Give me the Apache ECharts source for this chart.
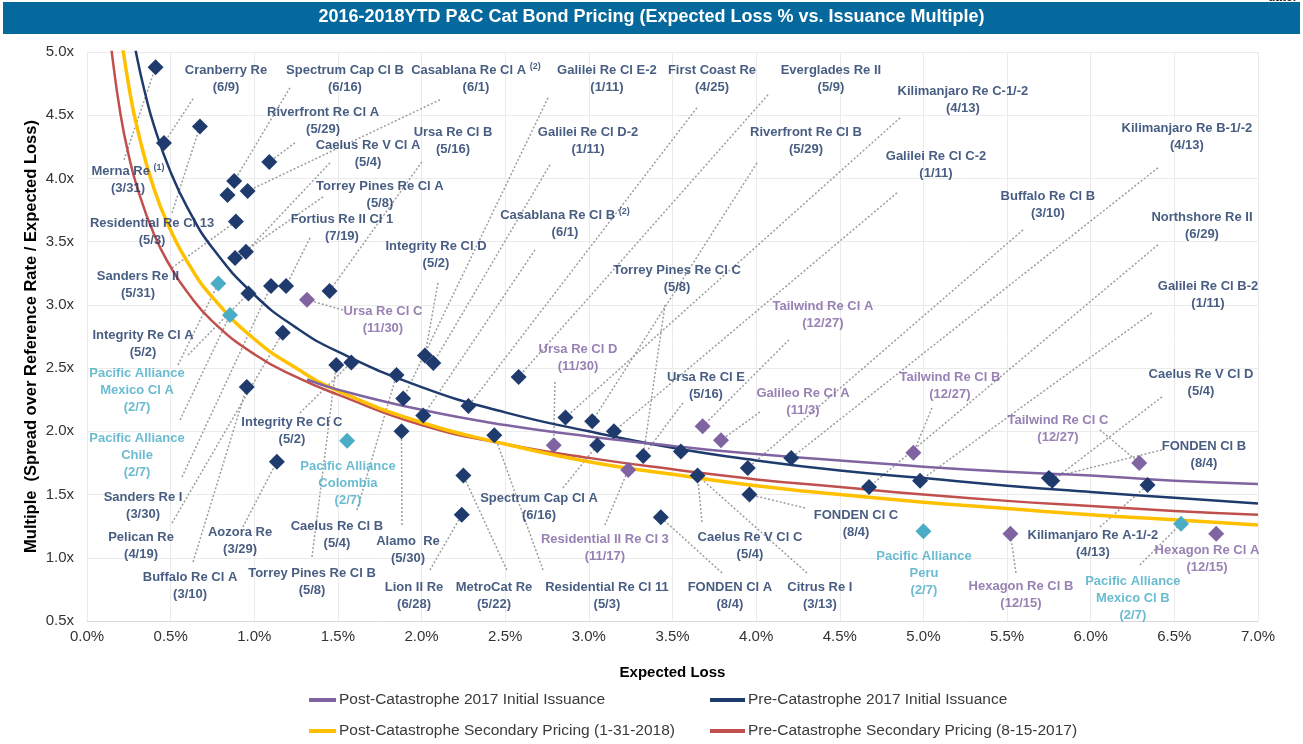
<!DOCTYPE html>
<html>
<head>
<meta charset="utf-8">
<title>2016-2018YTD P&C Cat Bond Pricing</title>
<script src="https://cdn.jsdelivr.net/npm/echarts@6/dist/echarts.min.js"></script>
<style>
html, body { margin: 0; padding: 0; background: #fff; }
#chart { width: 1303px; height: 744px; }
</style>
</head>
<body>
<div id="chart"></div>
<script>
var FONT = '"Liberation Sans", Arial, sans-serif'

// fitted pricing curves: [expected loss %, multiple]
var postIssuance2017 = [[1.315, 2.41], [1.5, 2.33], [2.0, 2.17], [2.5, 2.05], [3.0, 1.96], [3.5, 1.885], [4.0, 1.82],
  [4.5, 1.77], [5.0, 1.72], [5.5, 1.68], [6.0, 1.65], [6.5, 1.61], [7.0, 1.584]]
var preIssuance2017 = [[0.25, 5.32], [0.3, 4.95], [0.35, 4.66], [0.4, 4.42], [0.5, 4.05], [0.6, 3.77], [0.75, 3.45],
  [1.0, 3.08], [1.25, 2.82], [1.5, 2.63], [2.0, 2.35], [2.5, 2.15], [3.0, 2.0], [3.5, 1.87], [4.0, 1.77],
  [4.5, 1.69], [5.0, 1.63], [5.5, 1.57], [6.0, 1.52], [6.5, 1.475], [7.0, 1.43]]
var postSecondary = [[0.2, 5.16], [0.25, 4.73], [0.3, 4.40], [0.4, 3.92], [0.5, 3.59], [0.6, 3.34], [0.75, 3.06],
  [1.0, 2.73], [1.25, 2.50], [1.5, 2.32], [2.0, 2.07], [2.5, 1.90], [3.0, 1.76], [3.5, 1.66], [4.0, 1.57],
  [4.5, 1.50], [5.0, 1.44], [5.5, 1.39], [6.0, 1.34], [6.5, 1.30], [7.0, 1.26]]
var preSecondary = [[0.12, 5.37], [0.15, 4.98], [0.2, 4.51], [0.25, 4.18], [0.3, 3.93], [0.4, 3.56], [0.5, 3.30],
  [0.6, 3.10], [0.75, 2.87], [1.0, 2.61], [1.25, 2.43], [1.5, 2.29], [2.0, 2.05], [2.5, 1.90], [3.0, 1.79],
  [3.5, 1.70], [4.0, 1.62], [4.5, 1.56], [5.0, 1.50], [5.5, 1.45], [6.0, 1.41], [6.5, 1.37], [7.0, 1.34]]

// individual bonds: [expected loss %, multiple]
var navyBonds = [
  [0.41, 4.88], [0.46, 4.28], [0.675, 4.41], [1.09, 4.13], [0.88, 3.98],
  [0.84, 3.87], [0.96, 3.90], [0.89, 3.66], [0.95, 3.42], [0.885, 3.37],
  [0.965, 3.09], [1.10, 3.15], [1.19, 3.15], [1.45, 3.11], [1.17, 2.78],
  [1.49, 2.525], [1.58, 2.545], [0.955, 2.35], [1.85, 2.445], [1.89, 2.26],
  [2.02, 2.60], [2.07, 2.54], [2.01, 2.125], [1.88, 2.0], [1.135, 1.76],
  [2.58, 2.43], [2.28, 2.20], [2.86, 2.11], [3.02, 2.08], [3.15, 2.00],
  [3.05, 1.89], [2.435, 1.97], [3.325, 1.805], [3.55, 1.84], [3.65, 1.65],
  [3.95, 1.71], [4.21, 1.79], [3.96, 1.50], [2.25, 1.65], [2.24, 1.34],
  [3.43, 1.32], [4.675, 1.56], [4.98, 1.61], [5.77, 1.61], [5.75, 1.63],
  [6.34, 1.575]
]
var purpleBonds = [[1.315, 3.04], [2.79, 1.89], [3.235, 1.695], [3.68, 2.04], [3.79, 1.93],
  [4.94, 1.83], [6.29, 1.75], [5.52, 1.19], [6.75, 1.19]]
var tealBonds = [[0.785, 3.17], [0.855, 2.92], [1.555, 1.925], [5.0, 1.21], [6.54, 1.27]]

// bond names: [text, group, index of the bond it points to]
var bondLabels = [
  ['Cranberry Re\n(6/9)', 'navy', 1],
  ['Spectrum Cap Cl B\n(6/16)', 'navy', 4],
  ['Casablana Re Cl A {sup|(2)}\n(6/1)', 'navy', 6],
  ['Galilei Re Cl E-2\n(1/11)', 'navy', 19],
  ['First Coast Re\n(4/25)', 'navy', 26],
  ['Everglades Re II\n(5/9)', 'navy', 25],
  ['Kilimanjaro Re C-1/-2\n(4/13)', 'navy', 27],
  ['Riverfront Re Cl A\n(5/29)', 'navy', 3],
  ['Ursa Re Cl B\n(5/16)', 'navy', 13],
  ['Galilei Re Cl D-2\n(1/11)', 'navy', 21],
  ['Riverfront Re Cl B\n(5/29)', 'navy', 28],
  ['Kilimanjaro Re B-1/-2\n(4/13)', 'navy', 36],
  ['Caelus Re V Cl A\n(5/4)', 'navy', 8],
  ['Galilei Re Cl C-2\n(1/11)', 'navy', 29],
  ['Merna Re {sup|(1)}\n(3/31)', 'navy', 0],
  ['Torrey Pines Re Cl A\n(5/8)', 'navy', 9],
  ['Buffalo Re Cl B\n(3/10)', 'navy', 35],
  ['Casablana Re Cl B {sup|(2)}\n(6/1)', 'navy', 22],
  ['Residential Re Cl 13\n(5/3)', 'navy', 2],
  ['Fortius Re II Cl 1\n(7/19)', 'navy', 12],
  ['Northshore Re II\n(6/29)', 'navy', 41],
  ['Integrity Re Cl D\n(5/2)', 'navy', 20],
  ['Sanders Re II\n(5/31)', 'navy', 7],
  ['Torrey Pines Re Cl C\n(5/8)', 'navy', 32],
  ['Galilei Re Cl B-2\n(1/11)', 'navy', 42],
  ['Integrity Re Cl A\n(5/2)', 'navy', 10],
  ['Caelus Re V Cl D\n(5/4)', 'navy', 43],
  ['Integrity Re Cl C\n(5/2)', 'navy', 16],
  ['FONDEN Cl B\n(8/4)', 'navy', 44],
  ['Sanders Re I\n(3/30)', 'navy', 11],
  ['Spectrum Cap Cl A\n(6/16)', 'navy', 30],
  ['FONDEN Cl C\n(8/4)', 'navy', 37],
  ['Pelican Re\n(4/19)', 'navy', 14],
  ['Aozora Re\n(3/29)', 'navy', 24],
  ['Caelus Re Cl B\n(5/4)', 'navy', 18],
  ['Alamo  Re\n(5/30)', 'navy', 23],
  ['Caelus Re V Cl C\n(5/4)', 'navy', 34],
  ['Kilimanjaro Re A-1/-2\n(4/13)', 'navy', 45],
  ['Buffalo Re Cl A\n(3/10)', 'navy', 17],
  ['Torrey Pines Re Cl B\n(5/8)', 'navy', 15],
  ['Lion II Re\n(6/28)', 'navy', 39],
  ['MetroCat Re\n(5/22)', 'navy', 38],
  ['Residential Re Cl 11\n(5/3)', 'navy', 31],
  ['FONDEN Cl A\n(8/4)', 'navy', 40],
  ['Citrus Re I\n(3/13)', 'navy', 34],
  ['Ursa Re Cl E\n(5/16)', 'navy', 32],
  ['Ursa Re Cl C\n(11/30)', 'purple', 0],
  ['Tailwind Re Cl A\n(12/27)', 'purple', 3],
  ['Ursa Re Cl D\n(11/30)', 'purple', 1],
  ['Galileo Re Cl A\n(11/3)', 'purple', 4],
  ['Tailwind Re Cl B\n(12/27)', 'purple', 5],
  ['Tailwind Re Cl C\n(12/27)', 'purple', 6],
  ['Residential II Re Cl 3\n(11/17)', 'purple', 2],
  ['Hexagon Re Cl B\n(12/15)', 'purple', 7],
  ['Hexagon Re Cl A\n(12/15)', 'purple', 8],
  ['Pacific Alliance\nMexico Cl A\n(2/7)', 'teal', 0],
  ['Pacific Alliance\nChile\n(2/7)', 'teal', 1],
  ['Pacific Alliance\nColombia\n(2/7)', 'teal', 2],
  ['Pacific Alliance\nPeru\n(2/7)', 'teal', 3],
  ['Pacific Alliance\nMexico Cl B\n(2/7)', 'teal', 4]
]

// where each name sits and where its dotted leader starts (axis units)
var labelPlacement = [
  [0.831, 4.784, 0.634, 4.630], [1.542, 4.784, 1.213, 4.717], [2.325, 4.784, 2.110, 4.622],
  [3.108, 4.784, 2.756, 4.638], [3.736, 4.784, 3.646, 4.559], [4.447, 4.784, 4.071, 4.661],
  [5.236, 4.618, 4.860, 4.479], [1.411, 4.452, 1.243, 4.282], [2.188, 4.293, 2.002, 4.131],
  [2.995, 4.293, 2.767, 4.108], [4.298, 4.293, 4.005, 4.123], [6.575, 4.325, 6.402, 4.084],
  [1.680, 4.191, 1.452, 4.123], [5.075, 4.104, 4.842, 3.886], [0.245, 3.985, 0.221, 4.147],
  [1.751, 3.866, 1.411, 3.854], [5.744, 3.787, 5.595, 3.593], [2.857, 3.637, 2.678, 3.435],
  [0.389, 3.574, 0.508, 3.728], [1.524, 3.605, 1.333, 3.530], [6.665, 3.621, 6.402, 3.475],
  [2.086, 3.392, 2.098, 3.174], [0.305, 3.154, 0.508, 3.293], [3.527, 3.202, 3.455, 3.0],
  [6.701, 3.075, 6.366, 2.937], [0.335, 2.695, 0.604, 2.604], [6.659, 2.379, 6.426, 2.272],
  [1.225, 2.0, 1.273, 2.146], [6.677, 1.817, 6.426, 1.853], [0.335, 1.414, 0.568, 1.639],
  [2.702, 1.406, 2.845, 1.552], [4.597, 1.271, 4.292, 1.394], [0.323, 1.097, 0.508, 1.275],
  [0.915, 1.137, 0.932, 1.244], [1.494, 1.184, 1.614, 1.378], [1.919, 1.066, 1.883, 1.259],
  [3.963, 1.097, 3.676, 1.283], [6.013, 1.113, 6.055, 1.244], [0.616, 0.781, 0.634, 0.967],
  [1.345, 0.8125, 1.345, 1.006], [1.955, 0.702, 2.050, 0.903], [2.433, 0.702, 2.510, 0.903],
  [3.108, 0.702, 2.726, 0.903], [3.843, 0.702, 3.796, 0.880], [4.381, 0.702, 4.304, 0.880],
  [3.700, 2.363, 3.562, 2.225],
  [1.769, 2.885, 1.530, 2.960], [4.399, 2.917, 4.196, 2.723], [2.935, 2.577, 2.797, 2.391],
  [4.280, 2.229, 4.023, 2.153], [5.158, 2.363, 5.051, 2.185], [5.804, 2.023, 6.055, 2.011],
  [3.096, 1.074, 3.096, 1.259], [5.583, 0.710, 5.553, 0.880], [6.695, 0.994],
  [0.299, 2.320, 0.544, 2.525], [0.299, 1.813, 0.556, 2.090], [1.560, 1.592],
  [5.003, 0.880], [6.252, 0.682, 6.294, 0.943]
]

var groupColor = { navy: '#1a3563', purple: '#7e62a0', teal: '#47abc6' }
var groupPts = { navy: navyBonds, purple: purpleBonds, teal: tealBonds }

var labelData = []
var leaderData = []
bondLabels.forEach(function(b, i) {
  var p = labelPlacement[i]
  labelData.push({
    value: [p[0], p[1]],
    name: b[0],
    label: { color: groupColor[b[1]] }
  })
  if (p.length > 2) {
    leaderData.push({ coords: [[p[2], p[3]], groupPts[b[1]][b[2]]] })
  }
})

function curve(name, data, color, width) {
  return {
    name: name, type: 'line', data: data, smooth: true, symbol: 'none',
    lineStyle: { color: color, width: width }, itemStyle: { color: color },
    z: 3, silent: true
  }
}
function bonds(data, color) {
  return {
    type: 'scatter', data: data, symbol: 'diamond', symbolSize: 16,
    itemStyle: { color: color, opacity: 1 }, z: 5, silent: true
  }
}

var myChart = echarts.init(document.getElementById('chart'))
var option = {
  backgroundColor: '#fff',
  animation: false,
  textStyle: { fontFamily: FONT },
  title: {
    text: '2016-2018YTD P&C Cat Bond Pricing (Expected Loss % vs. Issuance Multiple)',
    left: 'center', top: 8, padding: 0,
    textStyle: { color: '#fff', fontSize: 18, fontWeight: 'bold', fontFamily: FONT }
  },
  graphic: [
    { type: 'rect', shape: { x: 3, y: 2, width: 1297, height: 32 }, style: { fill: '#06699d' }, z: 0 },
    { type: 'text', x: 1268, y: -8, style: { text: 'date.', font: 'bold 12px ' + FONT, fill: '#222' }, z: 1 }
  ],
  grid: { left: 87, right: 45, top: 52, bottom: 123 },
  legend: [
    {
      left: 309, top: 692, padding: 0, orient: 'vertical', itemGap: 15, itemWidth: 27, itemHeight: 4,
      icon: 'rect',
      data: ['Post-Catastrophe 2017 Initial Issuance', 'Post-Catastrophe Secondary Pricing (1-31-2018)'],
      textStyle: { fontSize: 15.5, color: '#3a3a3a', fontFamily: FONT, padding: [0, 0, 0, -2] }
    },
    {
      left: 710, top: 692, padding: 0, orient: 'vertical', itemGap: 15, itemWidth: 35, itemHeight: 4,
      icon: 'rect',
      data: ['Pre-Catastrophe 2017 Initial Issuance', 'Pre-Catastrophe Secondary Pricing (8-15-2017)'],
      textStyle: { fontSize: 15.5, color: '#3a3a3a', fontFamily: FONT, padding: [0, 0, 0, -2] }
    }
  ],
  xAxis: {
    type: 'value', min: 0, max: 7, interval: 0.5,
    name: 'Expected Loss', nameLocation: 'middle', nameGap: 44,
    nameTextStyle: { fontSize: 15, fontWeight: 'bold', color: '#000', fontFamily: FONT },
    axisLine: { lineStyle: { color: '#d9d9d9' } },
    axisTick: { show: false },
    axisLabel: { margin: 8, fontSize: 15, color: '#333', formatter: function(v) { return v.toFixed(1) + '%' } },
    splitLine: { lineStyle: { color: '#ebebeb' } }
  },
  yAxis: {
    type: 'value', min: 0.5, max: 5, interval: 0.5,
    name: 'Multiple  (Spread over Reference Rate / Expected Loss)', nameLocation: 'middle', nameGap: 47,
    nameMoveOverlap: false,
    nameTextStyle: { fontSize: 16.5, fontWeight: 'bold', color: '#000', fontFamily: FONT },
    axisLine: { show: true, lineStyle: { color: '#ebebeb' } },
    axisTick: { show: false },
    axisLabel: { margin: 13, fontSize: 15, color: '#333', formatter: function(v) { return v.toFixed(1) + 'x' } },
    splitLine: { lineStyle: { color: '#ebebeb' } }
  },
  series: [
    {
      type: 'lines', coordinateSystem: 'cartesian2d', data: leaderData, silent: true, z: 2,
      lineStyle: { type: [2, 2], color: '#9d9d9d', width: 1.5, opacity: 1 }
    },
    curve('Pre-Catastrophe Secondary Pricing (8-15-2017)', preSecondary, '#c0504d', 2.5),
    curve('Post-Catastrophe Secondary Pricing (1-31-2018)', postSecondary, '#ffc000', 3.5),
    curve('Pre-Catastrophe 2017 Initial Issuance', preIssuance2017, '#1f3b6e', 2.5),
    curve('Post-Catastrophe 2017 Initial Issuance', postIssuance2017, '#8064a2', 2.5),
    bonds(navyBonds, '#1f3b6e'),
    bonds(purpleBonds, '#8064a2'),
    bonds(tealBonds, '#4bacc6'),
    {
      type: 'scatter', data: labelData, symbolSize: 1, silent: true, z: 6,
      itemStyle: { color: 'rgba(0,0,0,0)' },
      label: {
        show: true, position: 'inside', align: 'center', verticalAlign: 'middle',
        fontSize: 13, fontWeight: 'bold', lineHeight: 17, fontFamily: FONT,
        formatter: function(p) { return p.name },
        rich: { sup: { fontSize: 9, fontWeight: 'bold', fontFamily: FONT, padding: [0, 0, 8, 0] } }
      }
    }
  ]
}
myChart.setOption(option)
</script>
</body>
</html>
